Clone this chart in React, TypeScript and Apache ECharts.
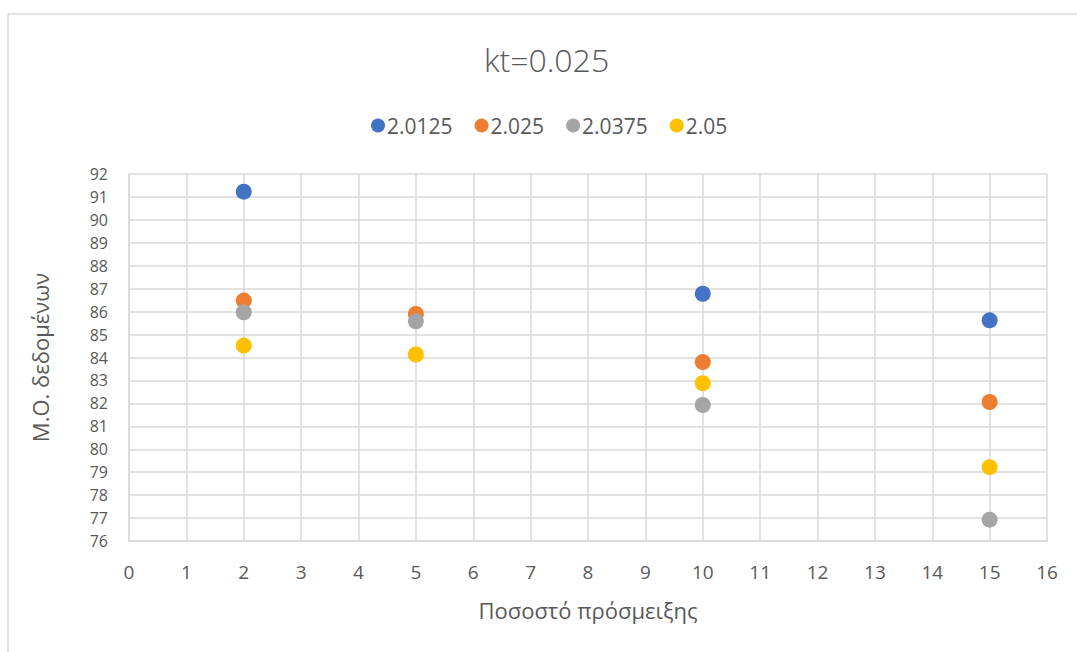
import React, { useEffect, useRef } from "react";
import * as echarts from "echarts";

// Mixing percentage (x) and mean of data (y) for each series
const seriesNames = ["2.0125", "2.025", "2.0375", "2.05"];
const xValues = [2, 5, 10, 15];
const s20125 = [91.23, null, 86.78, 85.62];
const s2025 = [86.48, 85.9, 83.8, 82.06];
const s20375 = [85.97, 85.58, 81.93, 76.93];
const s205 = [84.52, 84.13, 82.88, 79.22];
const colors = ["#4472C4", "#ED7D31", "#A5A5A5", "#FFC000"];

const titleText = "kt=0.025";
const xName = "Ποσοστό πρόσμειξης";
const yName = "Μ.Ο. δεδομένων";

const FONT = "'Open Sans', 'Noto Sans', sans-serif";
const TEXT = "#595959";
const GRID = "#d9d9d9";

export default function App() {
  const ref = useRef<HTMLDivElement>(null);

  useEffect(() => {
    if (!ref.current) return;
    const chart = echarts.init(ref.current, undefined, { renderer: "svg" });
    const all = [s20125, s2025, s20375, s205];
    chart.setOption({
      animation: false,
      backgroundColor: "#ffffff",
      textStyle: { fontFamily: FONT },
      title: {
        text: titleText,
        left: 479,
        top: 38,
        textStyle: { fontFamily: FONT, fontSize: 32, fontWeight: 300, color: TEXT },
      },
      legend: {
        top: 110,
        left: 366,
        icon: "circle",
        itemWidth: 14,
        itemHeight: 14,
        itemGap: 22,
        textStyle: { fontFamily: FONT, fontSize: 21, color: TEXT, padding: [0, 0, 0, -3] },
        data: seriesNames,
      },
      grid: { left: 129, right: 30, top: 174, bottom: 111 },
      xAxis: {
        type: "value",
        min: 0,
        max: 16,
        interval: 1,
        name: xName,
        nameLocation: "middle",
        nameGap: 58,
        nameTextStyle: { fontFamily: FONT, fontSize: 22, color: TEXT },
        axisLine: { show: true, lineStyle: { color: GRID, width: 1.5 } },
        axisTick: { show: false },
        axisLabel: { margin: 21, fontFamily: FONT, fontSize: 19, color: TEXT },
        splitLine: { show: true, lineStyle: { color: GRID, width: 1.5 } },
      },
      yAxis: {
        type: "value",
        min: 76,
        max: 92,
        interval: 1,
        name: yName,
        nameLocation: "middle",
        nameGap: 78,
        nameTextStyle: { fontFamily: FONT, fontSize: 22, color: TEXT },
        axisLine: { show: true, lineStyle: { color: GRID, width: 1.5 } },
        axisTick: { show: false },
        axisLabel: { margin: 21, fontFamily: FONT, fontSize: 16, lineHeight: 20, color: TEXT },
        splitLine: { show: true, lineStyle: { color: GRID, width: 1.5 } },
      },
      graphic: [
        {
          type: "rect",
          silent: true,
          shape: { x: 8, y: 14, width: 1200, height: 800 },
          style: { fill: "none", stroke: GRID, lineWidth: 1.5 },
        },
      ],
      series: seriesNames.map((name, i) => ({
        name,
        type: "scatter",
        symbol: "circle",
        symbolSize: 16,
        itemStyle: { color: colors[i], opacity: 1 },
        data: xValues
          .map((x, j) => [x, all[i][j]])
          .filter((p) => p[1] !== null),
      })),
    });
    return () => chart.dispose();
  }, []);

  return (
    <div
      ref={ref}
      style={{ position: "absolute", left: 0, top: 0, width: 1077, height: 652 }}
    />
  );
}
